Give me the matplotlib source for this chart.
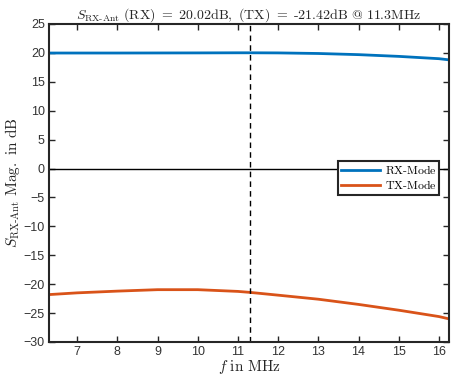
import matplotlib
matplotlib.use("Agg")
import matplotlib.pyplot as plt
import numpy as np

freq = [6.3, 7, 8, 9, 10, 11, 11.3, 12, 13, 14, 15, 16, 16.25]
rx_db = [19.98, 19.98, 19.98, 19.99, 20.0, 20.02, 20.02, 20.0, 19.9, 19.7, 19.4, 19.0, 18.8]
tx_db = [-21.8, -21.5, -21.2, -20.95, -20.95, -21.25, -21.42, -21.9, -22.6, -23.5, -24.5, -25.6, -26.0]
marker_f = 11.3

plt.rcParams['mathtext.fontset'] = 'cm'
plt.rcParams['font.family'] = ['Liberation Sans', 'DejaVu Sans']

fig = plt.figure(figsize=(4.52, 3.76), dpi=100)
ax = fig.add_axes([49/452, 1-342/376, 400/452, 318/376])

ax.plot(freq, rx_db, color='#0072BD', lw=2, label=r'$\mathrm{RX\text{-}Mode}$')
ax.plot(freq, tx_db, color='#D95319', lw=2, label=r'$\mathrm{TX\text{-}Mode}$')
ax.axhline(0, color='black', lw=1)
ax.axvline(marker_f, color='black', lw=1, ls=(0, (4, 3)))

ax.set_xlim(6.3, 16.25)
ax.set_ylim(-30, 25)
ax.set_xticks(range(7, 17))
ax.set_yticks(range(-30, 26, 5))
ax.tick_params(direction='in', length=4, width=1, labelsize=9, colors='#262626', labelcolor='#333333',
               top=True, right=True, pad=3)
for s in ax.spines.values():
    s.set_linewidth(1.5)
    s.set_color('#262626')

ax.set_title(r'$S_{\mathrm{RX\text{-}Ant}}\ \mathrm{(RX)\ =\ 20.02dB,\ (TX)\ =\ \text{-}21.42dB\ @\ 11.3MHz}$',
             fontsize=10, pad=4, color='#262626')
ax.set_xlabel(r'$f\ \mathrm{in\ MHz}$', fontsize=11, labelpad=0, color='#262626')
ax.set_ylabel(r'$S_{\mathrm{RX\text{-}Ant}}\ \mathrm{Mag.\ in\ dB}$', fontsize=11, labelpad=1, color='#262626')

leg = ax.legend(loc='upper right', bbox_to_anchor=(0.985, 0.58), fontsize=8.5,
                fancybox=False, framealpha=1,
                edgecolor='#262626', handlelength=3.3, handletextpad=0.4, borderpad=0.25, labelspacing=0.15,
                borderaxespad=0.3)
leg.get_frame().set_linewidth(1.5)

fig.savefig('out.png', dpi=100)
